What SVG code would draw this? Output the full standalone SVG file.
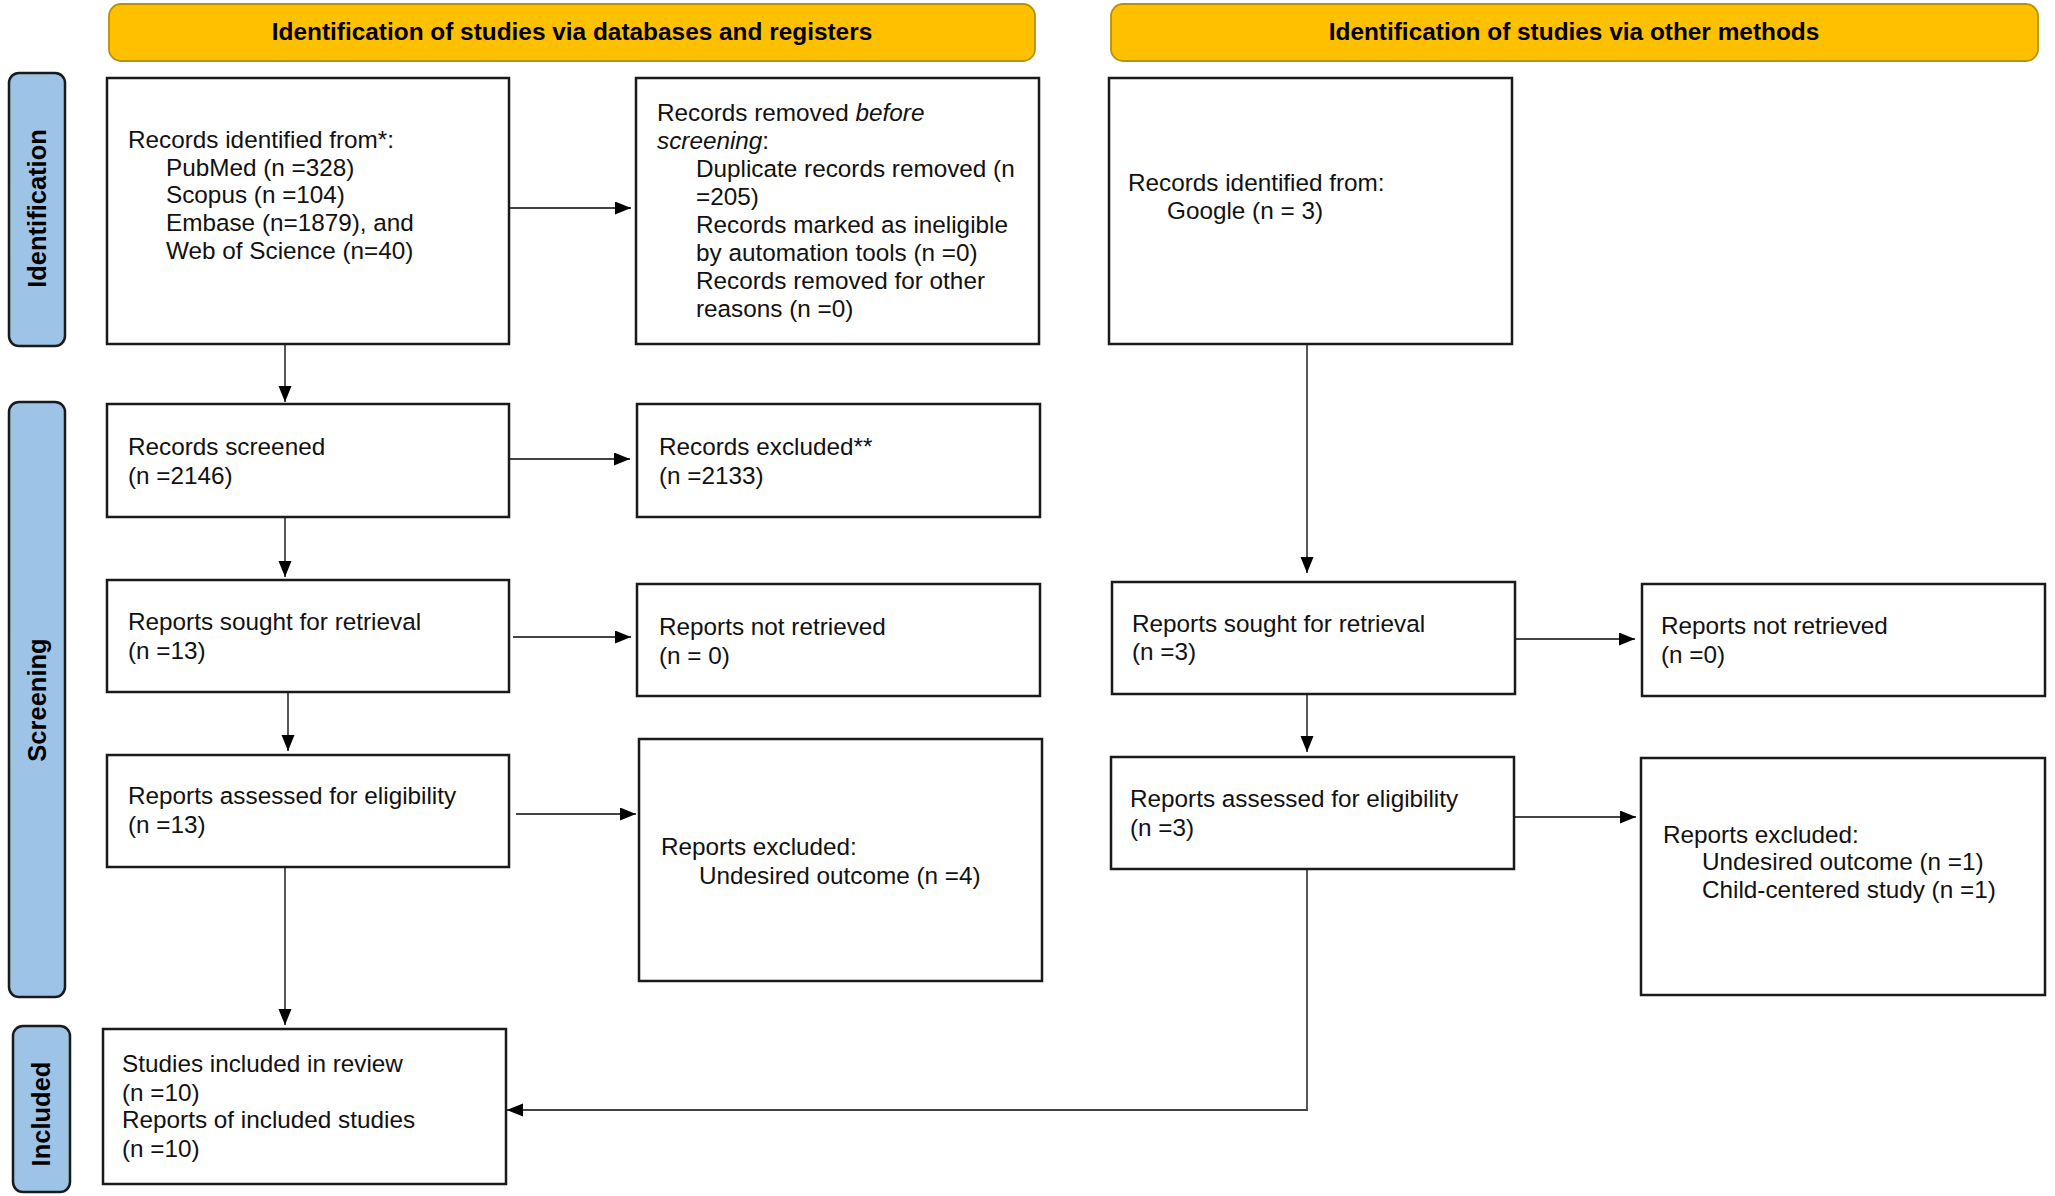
<svg xmlns="http://www.w3.org/2000/svg" width="2055" height="1196" viewBox="0 0 2055 1196">
<defs>
<style>
.hdr{fill:#FFC000;stroke:#B8900A;stroke-width:1.8}
.hdrt{font-family:"Liberation Sans",Arial,sans-serif;font-weight:bold;font-size:24.4px;fill:#000;text-anchor:middle}
.side{fill:#9DC3E6;stroke:#1a1a1a;stroke-width:2.5}
.sidet{font-family:"Liberation Sans",Arial,sans-serif;font-weight:bold;font-size:25.5px;fill:#000;text-anchor:middle}
.box{fill:#fff;stroke:#1a1a1a;stroke-width:2.5}
.t{font-family:"Liberation Sans",Arial,sans-serif;font-size:24.3px;fill:#111}
.con{fill:none;stroke:#444;stroke-width:1.8}
</style>
<marker id="ah" markerUnits="userSpaceOnUse" markerWidth="17" markerHeight="14" refX="16" refY="6.5" orient="auto">
<path d="M0,0 L16,6.5 L0,13 z" fill="#000"/>
</marker>
</defs>
<rect width="2055" height="1196" fill="#fff"/>

<g id="header-databases">
<rect class="hdr" x="109" y="4" width="926" height="57" rx="12"/>
<text class="hdrt" x="572" y="40">Identification of studies via databases and registers</text>
</g>
<g id="header-other">
<rect class="hdr" x="1111" y="4" width="927" height="57" rx="12"/>
<text class="hdrt" x="1574" y="40">Identification of studies via other methods</text>
</g>

<g id="label-identification">
<rect class="side" x="9" y="73" width="56" height="273" rx="10"/>
<text class="sidet" transform="translate(46,208.5) rotate(-90)">Identification</text>
</g>
<g id="label-screening">
<rect class="side" x="9" y="402" width="56" height="595" rx="10"/>
<text class="sidet" transform="translate(46,700) rotate(-90)">Screening</text>
</g>
<g id="label-included">
<rect class="side" x="13" y="1026" width="57" height="166" rx="10"/>
<text class="sidet" transform="translate(50,1114) rotate(-90)">Included</text>
</g>

<g id="connectors">
<line class="con" x1="509" y1="208" x2="631" y2="208" marker-end="url(#ah)"/>
<line class="con" x1="285" y1="344" x2="285" y2="402" marker-end="url(#ah)"/>
<line class="con" x1="509" y1="459" x2="630" y2="459" marker-end="url(#ah)"/>
<line class="con" x1="285" y1="517" x2="285" y2="577" marker-end="url(#ah)"/>
<line class="con" x1="513" y1="637" x2="631" y2="637" marker-end="url(#ah)"/>
<line class="con" x1="288" y1="692" x2="288" y2="751" marker-end="url(#ah)"/>
<line class="con" x1="516" y1="814" x2="636" y2="814" marker-end="url(#ah)"/>
<line class="con" x1="285" y1="867" x2="285" y2="1025" marker-end="url(#ah)"/>
<line class="con" x1="1307" y1="344" x2="1307" y2="573" marker-end="url(#ah)"/>
<line class="con" x1="1515" y1="639" x2="1635" y2="639" marker-end="url(#ah)"/>
<line class="con" x1="1307" y1="694" x2="1307" y2="752" marker-end="url(#ah)"/>
<line class="con" x1="1514" y1="817" x2="1636" y2="817" marker-end="url(#ah)"/>
<polyline class="con" points="1307,869 1307,1110 507,1110" marker-end="url(#ah)"/>
</g>

<g id="records-identified">
<rect class="box" x="107" y="78" width="402" height="266"/>
<text class="t" x="128" y="148">Records identified from*:</text>
<text class="t" x="166" y="175.7">PubMed (n =328)</text>
<text class="t" x="166" y="203.4">Scopus (n =104)</text>
<text class="t" x="166" y="231">Embase (n=1879), and</text>
<text class="t" x="166" y="258.7">Web of Science (n=40)</text>
</g>

<g id="records-removed">
<rect class="box" x="636" y="78" width="403" height="266"/>
<text class="t" x="657" y="121">Records removed <tspan font-style="italic">before</tspan></text>
<text class="t" x="657" y="149"><tspan font-style="italic">screening</tspan>:</text>
<text class="t" x="696" y="177">Duplicate records removed (n</text>
<text class="t" x="696" y="205">=205)</text>
<text class="t" x="696" y="233">Records marked as ineligible</text>
<text class="t" x="696" y="261">by automation tools (n =0)</text>
<text class="t" x="696" y="289">Records removed for other</text>
<text class="t" x="696" y="317">reasons (n =0)</text>
</g>

<g id="records-other">
<rect class="box" x="1109" y="78" width="403" height="266"/>
<text class="t" x="1128" y="191">Records identified from:</text>
<text class="t" x="1167" y="219">Google (n = 3)</text>
</g>

<g id="records-screened">
<rect class="box" x="107" y="404" width="402" height="113"/>
<text class="t" x="128" y="455">Records screened</text>
<text class="t" x="128" y="484">(n =2146)</text>
</g>

<g id="records-excluded">
<rect class="box" x="637" y="404" width="403" height="113"/>
<text class="t" x="659" y="455">Records excluded**</text>
<text class="t" x="659" y="484">(n =2133)</text>
</g>

<g id="reports-sought-db">
<rect class="box" x="107" y="580" width="402" height="112"/>
<text class="t" x="128" y="630">Reports sought for retrieval</text>
<text class="t" x="128" y="659">(n =13)</text>
</g>

<g id="reports-not-retrieved-db">
<rect class="box" x="637" y="584" width="403" height="112"/>
<text class="t" x="659" y="635">Reports not retrieved</text>
<text class="t" x="659" y="664">(n = 0)</text>
</g>

<g id="reports-sought-other">
<rect class="box" x="1112" y="582" width="403" height="112"/>
<text class="t" x="1132" y="632">Reports sought for retrieval</text>
<text class="t" x="1132" y="660">(n =3)</text>
</g>

<g id="reports-not-retrieved-other">
<rect class="box" x="1642" y="584" width="403" height="112"/>
<text class="t" x="1661" y="634">Reports not retrieved</text>
<text class="t" x="1661" y="663">(n =0)</text>
</g>

<g id="reports-assessed-db">
<rect class="box" x="107" y="755" width="402" height="112"/>
<text class="t" x="128" y="804">Reports assessed for eligibility</text>
<text class="t" x="128" y="833">(n =13)</text>
</g>

<g id="reports-excluded-db">
<rect class="box" x="639" y="739" width="403" height="242"/>
<text class="t" x="661" y="855">Reports excluded:</text>
<text class="t" x="699" y="884">Undesired outcome (n =4)</text>
</g>

<g id="reports-assessed-other">
<rect class="box" x="1111" y="757" width="403" height="112"/>
<text class="t" x="1130" y="807">Reports assessed for eligibility</text>
<text class="t" x="1130" y="836">(n =3)</text>
</g>

<g id="reports-excluded-other">
<rect class="box" x="1641" y="758" width="404" height="237"/>
<text class="t" x="1663" y="843">Reports excluded:</text>
<text class="t" x="1702" y="870">Undesired outcome (n =1)</text>
<text class="t" x="1702" y="898">Child-centered study (n =1)</text>
</g>

<g id="studies-included">
<rect class="box" x="103" y="1029" width="403" height="155"/>
<text class="t" x="122" y="1072">Studies included in review</text>
<text class="t" x="122" y="1101">(n =10)</text>
<text class="t" x="122" y="1128">Reports of included studies</text>
<text class="t" x="122" y="1157">(n =10)</text>
</g>
</svg>
